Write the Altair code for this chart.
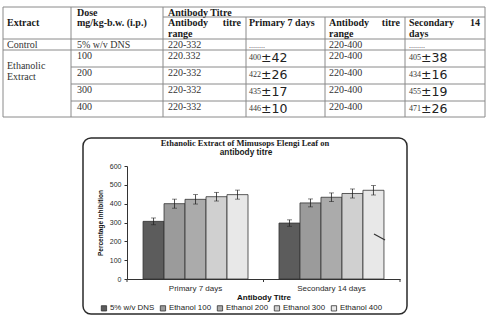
import altair as alt
import pandas as pd

W, H = 489, 327
PX0, PY0 = 127, 166          # plot-area origin inside the page
PW, PH = 273, 113            # plot-area size

# ---------------- table content ----------------
col_edges = [3, 71, 163, 246, 325, 405, 485]
row_edges = [7, 17, 39, 50, 67, 84, 101, 117]

header_line1 = ["Dose", "Antibody Titre"]
header_line2 = ["Extract", "mg/kg-b.w. (i.p.)", "Antibody", "Primary 7 days", "Antibody", "Secondary"]
header_right = ["titre", "titre", "14"]
header_line3 = ["range", "range", "days"]

extract_labels = ["Control", "Ethanolic", "Extract"]
doses = ["5% w/v DNS", "100", "200", "300", "400"]
primary_range = ["220-332", "220.332", "220-332", "220-332", "220-332"]
secondary_range = ["220-400", "220-400", "220-400", "220-400", "220-400"]
primary_mean = ["400", "422", "435", "446"]
primary_sd = ["±42", "±26", "±17", "±10"]
secondary_mean = ["405", "434", "455", "471"]
secondary_sd = ["±38", "±16", "±19", "±26"]
control_blank = "........"

# ---------------- chart content ----------------
chart_title = "Ethanolic Extract of Mimusops Elengi Leaf on"
chart_subtitle = "antibody titre"
groups = ["Primary 7 days", "Secondary 14 days"]
series = ["5% w/v DNS", "Ethanol 100", "Ethanol 200", "Ethanol 300", "Ethanol 400"]
primary_vals = [306, 400, 423, 437, 448]
secondary_vals = [297, 404, 434, 454, 471]
primary_err = [18, 24, 25, 23, 24]
secondary_err = [17, 21, 23, 24, 25]
y_ticks = [0, 100, 200, 300, 400, 500, 600]
grays = ["#5c5c5c", "#9b9b9b", "#ababab", "#d0d0d0", "#e8e8e8"]

SERIF = "Liberation Serif"
SANS = "Liberation Sans"

# ---------------- build table frames (pixel layout relative to plot origin) ----------------
pad = [4, 6, 5, 3, 4, 4]
cx = [col_edges[i] + pad[i] for i in range(6)]
y1, y2, y3 = 12.5, 23, 33.5
row_y = [row_edges[3] - 5] + [row_edges[3 + k] + 6 for k in range(4)]  # control + 4 dose rows


def rel(rows):
    return pd.DataFrame([{"t": t, "x": x - PX0, "y": y - PY0} for t, x, y in rows])


head_rows = [(header_line1[0], cx[1], y1), (header_line1[1], cx[2], y1)]
for t, c in zip(header_line2, [0, 1, 2, 3, 4, 5]):
    head_rows.append((t, cx[c], y2))
for t, c in zip(header_line3, [2, 4, 5]):
    head_rows.append((t, cx[c], y3))
head_right_rows = [(t, col_edges[c + 1] - 5, y2) for t, c in zip(header_right, [2, 4, 5])]

body_rows = [(extract_labels[0], cx[0], row_y[0]),
             (extract_labels[1], cx[0], 66), (extract_labels[2], cx[0], 77)]
for k in range(5):
    body_rows.append((doses[k], cx[1], row_y[k]))
    body_rows.append((primary_range[k], cx[2], row_y[k]))
    body_rows.append((secondary_range[k], cx[4], row_y[k]))
small_rows = [(control_blank, cx[3], row_y[0] + 1), (control_blank, cx[5], row_y[0] + 1)]
sd_rows = []
for k in range(4):
    small_rows.append((primary_mean[k], cx[3], row_y[k + 1] + 2))
    small_rows.append((secondary_mean[k], cx[5], row_y[k + 1] + 2))
    sd_rows.append((primary_sd[k], cx[3] + 12, row_y[k + 1] + 1.5))
    sd_rows.append((secondary_sd[k], cx[5] + 12, row_y[k + 1] + 1.5))

L, R = col_edges[0], col_edges[-1]
line_specs = [
    (L, R, row_edges[0], row_edges[0]),
    (col_edges[2], R, row_edges[1], row_edges[1]),
    (L, R, row_edges[2], row_edges[2]),
    (L, R, row_edges[3], row_edges[3]),
    (col_edges[1], R, row_edges[4], row_edges[4]),
    (col_edges[1], R, row_edges[5], row_edges[5]),
    (col_edges[1], R, row_edges[6], row_edges[6]),
    (L, R, row_edges[7], row_edges[7]),
]
for c in [0, 1, 2, 6]:
    line_specs.append((col_edges[c], col_edges[c], row_edges[0], row_edges[7]))
for c in [3, 4, 5]:
    line_specs.append((col_edges[c], col_edges[c], row_edges[1], row_edges[7]))
lines_df = pd.DataFrame([{"x": a - PX0, "x2": b - PX0, "y": c - PY0, "y2": d - PY0}
                         for a, b, c, d in line_specs])


def text_layer(df, font, size, weight="normal", align="left", color="#2a2a2a"):
    return alt.Chart(df).mark_text(font=font, fontSize=size, fontWeight=weight, align=align,
                                   baseline="middle", color=color).encode(
        x=alt.X("x:Q", scale=None, axis=None),
        y=alt.Y("y:Q", scale=None, axis=None),
        text="t:N")


table_lines = alt.Chart(lines_df).mark_rule(color="#8a8a8a", strokeWidth=1).encode(
    x=alt.X("x:Q", scale=None, axis=None), x2="x2:Q",
    y=alt.Y("y:Q", scale=None, axis=None), y2="y2:Q")

t_head = text_layer(rel(head_rows), SERIF, 10, "bold", color="#1a1a1a")
t_head_r = text_layer(rel(head_right_rows), SERIF, 10, "bold", "right", color="#1a1a1a")
t_body = text_layer(rel(body_rows), SERIF, 10, color="#333333")
t_small = text_layer(rel(small_rows), SERIF, 8, color="#333333")
t_sd = text_layer(rel(sd_rows), "DejaVu Sans", 12.5, color="#222222")

# ---------------- chart frame and titles ----------------
frame_df = pd.DataFrame([{"x": 83 - PX0, "x2": 407 - PX0, "y": 138 - PY0, "y2": 314 - PY0}])
frame = alt.Chart(frame_df).mark_rect(fill="white", fillOpacity=0, stroke="#2a2a2a",
                                      strokeWidth=1.5, cornerRadius=8).encode(
    x=alt.X("x:Q", scale=None, axis=None), x2="x2:Q",
    y=alt.Y("y:Q", scale=None, axis=None), y2="y2:Q")

title_l = text_layer(rel([(chart_title, 245, 143)]), SERIF, 8.5, "bold", "center", "#1a1a1a")
sub_l = text_layer(rel([(chart_subtitle, 246, 153)]), SANS, 8.3, "bold", "center", "#1a1a1a")

# ---------------- bars ----------------
rows = []
for g, vals, errs in [(groups[0], primary_vals, primary_err), (groups[1], secondary_vals, secondary_err)]:
    for s, v, e in zip(series, vals, errs):
        rows.append({"group": g, "series": s, "value": v, "lo": v - e, "hi": v + e})
bar_df = pd.DataFrame(rows)

xscale = alt.Scale(paddingInner=0.228, paddingOuter=0.118)
yscale = alt.Scale(domain=[0, 600], nice=False)
xaxis = alt.Axis(title="Antibody Titre", labelAngle=0, ticks=False,
                 labelFont=SANS, labelFontSize=8, labelColor="#2a2a2a", labelPadding=5,
                 titleFont=SANS, titleFontSize=8, titleFontWeight="bold", titleColor="#111",
                 titlePadding=1, domainColor="#333", domainWidth=1)
yaxis = alt.Axis(values=y_ticks, labelOverlap=False, title="Percentage inhibition",
                 grid=False,
                 labelFont=SANS, labelFontSize=7, labelColor="#2a2a2a", labelPadding=3,
                 tickSize=3, tickColor="#333", domainColor="#333", domainWidth=1,
                 titleFont=SANS, titleFontSize=6.5, titleFontWeight="bold",
                 titleColor="#111", titlePadding=6)
xenc = alt.X("group:N", sort=groups, scale=xscale, axis=xaxis)
xoff = alt.XOffset("series:N", sort=series, scale=alt.Scale(paddingInner=0, paddingOuter=0))

bars = alt.Chart(bar_df).mark_bar(stroke="#333", strokeWidth=0.8).encode(
    x=xenc, xOffset=xoff,
    y=alt.Y("value:Q", scale=yscale, axis=yaxis),
    color=alt.Color("series:N", sort=series, scale=alt.Scale(domain=series, range=grays),
                    legend=alt.Legend(orient="none", legendX=-27, legendY=138, direction="horizontal",
                                      title=None, labelFont=SANS, labelFontSize=7.9, labelColor="#222",
                                      symbolType="square", symbolSize=28, symbolStrokeColor="#333",
                                      symbolStrokeWidth=0.8, labelOffset=2, columnPadding=3,
                                      padding=0)))
err_rule = alt.Chart(bar_df).mark_rule(color="#222", strokeWidth=0.8).encode(
    x=xenc, xOffset=xoff,
    y=alt.Y("lo:Q", scale=yscale, axis=yaxis), y2="hi:Q")
cap_lo = alt.Chart(bar_df).mark_tick(color="#222", thickness=0.8, size=5, orient="horizontal").encode(
    x=xenc, xOffset=xoff, y=alt.Y("lo:Q", scale=yscale, axis=yaxis))
cap_hi = alt.Chart(bar_df).mark_tick(color="#222", thickness=0.8, size=5, orient="horizontal").encode(
    x=xenc, xOffset=xoff, y=alt.Y("hi:Q", scale=yscale, axis=yaxis))
bar_layer = alt.layer(bars, err_rule, cap_lo, cap_hi)

# category-boundary ticks on the x axis
bt_df = pd.DataFrame({"x": [0, PW / 2, PW], "y": [PH] * 3, "y2": [PH + 3] * 3})
btick = alt.Chart(bt_df).mark_rule(color="#333", strokeWidth=1).encode(
    x=alt.X("x:Q", scale=None, axis=None), y=alt.Y("y:Q", scale=None, axis=None), y2="y2:Q")

# scan artefact stroke on the last bar
slash_df = pd.DataFrame([{"x": 374 - PX0, "x2": 385 - PX0, "y": 234 - PY0, "y2": 240 - PY0}])
slash = alt.Chart(slash_df).mark_rule(color="#333", strokeWidth=1.2).encode(
    x=alt.X("x:Q", scale=None, axis=None), x2="x2:Q",
    y=alt.Y("y:Q", scale=None, axis=None), y2="y2:Q")

chart = alt.layer(
    table_lines, t_head, t_head_r, t_body, t_small, t_sd,
    frame, title_l, sub_l, bar_layer, btick, slash
).resolve_scale(x="independent", y="independent").properties(
    width=PW, height=PH,
    padding={"left": PX0, "top": PY0, "right": W - PX0 - PW, "bottom": H - PY0 - PH},
    autosize=alt.AutoSizeParams(type="none"),
    background="white",
).configure_view(strokeWidth=0)

chart.save("out.html", embed_options={"renderer": "svg", "actions": False})
